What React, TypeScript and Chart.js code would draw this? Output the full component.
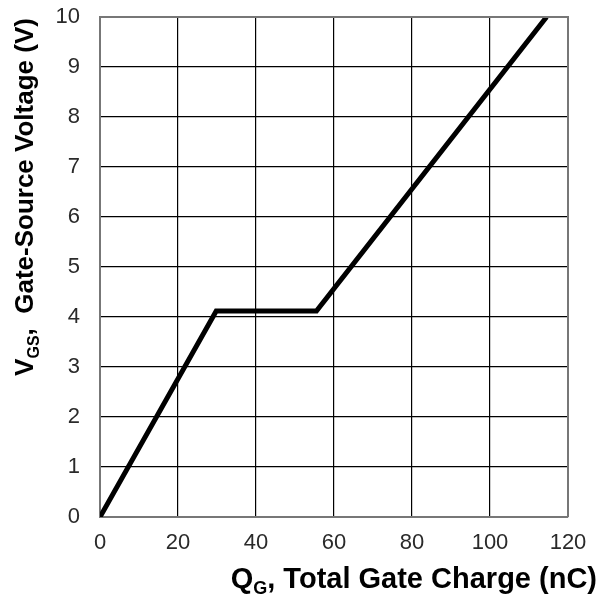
import React, { useEffect, useRef } from "react";
import { Chart, registerables } from "chart.js";

Chart.register(...registerables);

const chargeNC = [0, 29.8, 55.5, 114.5];
const gateVoltage = [0, 4.12, 4.12, 10];
const xTicks = [0, 20, 40, 60, 80, 100, 120];
const yTicks = [0, 1, 2, 3, 4, 5, 6, 7, 8, 9, 10];

const FONT = "'Liberation Sans', Arial, sans-serif";

function drawSubText(
  ctx: CanvasRenderingContext2D,
  parts: { t: string; sub?: boolean }[],
  x: number,
  y: number,
  align: "left" | "right" | "center",
  size: number
) {
  const big = "bold " + size + "px " + FONT;
  const small = "bold " + Math.round(size * 0.62) + "px " + FONT;
  let total = 0;
  const widths = parts.map((p) => {
    ctx.font = p.sub ? small : big;
    const w = ctx.measureText(p.t).width;
    total += w;
    return w;
  });
  let cx = align === "left" ? x : align === "right" ? x - total : x - total / 2;
  ctx.textBaseline = "alphabetic";
  ctx.textAlign = "left";
  parts.forEach((p, i) => {
    ctx.font = p.sub ? small : big;
    ctx.fillText(p.t, cx, p.sub ? y + size * 0.22 : y);
    cx += widths[i];
  });
}

const titlePlugin = {
  id: "axisTitles",
  afterDraw(chart: any) {
    const ctx = chart.ctx as CanvasRenderingContext2D;
    ctx.save();
    ctx.fillStyle = "#000";
    drawSubText(
      ctx,
      [{ t: "Q" }, { t: "G", sub: true }, { t: ", Total Gate Charge (nC)" }],
      597,
      588,
      "right",
      29
    );
    ctx.translate(33, 197);
    ctx.rotate(-Math.PI / 2);
    drawSubText(
      ctx,
      [{ t: "V" }, { t: "GS", sub: true }, { t: ",  Gate-Source Voltage (V)" }],
      0,
      0,
      "center",
      26
    );
    ctx.restore();
  },
};

export default function App() {
  const ref = useRef<HTMLCanvasElement | null>(null);
  useEffect(() => {
    document.body.style.margin = "0";
    const data = chargeNC.map((x, i) => ({ x, y: gateVoltage[i] }));
    const chart = new Chart(ref.current as HTMLCanvasElement, {
      type: "scatter",
      data: {
        datasets: [
          {
            data,
            showLine: true,
            borderColor: "#000",
            borderWidth: 5,
            pointRadius: 0,
            borderJoinStyle: "miter",
            borderCapStyle: "butt",
          } as any,
        ],
      },
      options: {
        animation: false,
        responsive: false,
        devicePixelRatio: 1,
        layout: { padding: { top: 17, right: 30, left: 0, bottom: 0 } },
        plugins: { legend: { display: false }, tooltip: { enabled: false } },
        scales: {
          x: {
            type: "linear",
            min: 0,
            max: 120,
            afterBuildTicks: (s: any) => {
              s.ticks = xTicks.map((v) => ({ value: v }));
            },
            afterFit: (s: any) => {
              s.height = 78;
              s.paddingLeft = 0;
              s.paddingRight = 0;
            },
            grid: { color: "#000", lineWidth: 1.2, drawTicks: false },
            border: { color: "#777", width: 2 },
            ticks: {
              color: "#2a2a2a",
              font: { family: FONT, size: 22 },
              padding: 13,
              maxRotation: 0,
            },
          },
          y: {
            type: "linear",
            min: 0,
            max: 10,
            afterBuildTicks: (s: any) => {
              s.ticks = yTicks.map((v) => ({ value: v }));
            },
            afterFit: (s: any) => {
              s.width = 100;
              s.paddingTop = 0;
              s.paddingBottom = 0;
            },
            grid: { color: "#000", lineWidth: 1.2, drawTicks: false },
            border: { color: "#777", width: 2 },
            ticks: {
              color: "#2a2a2a",
              font: { family: FONT, size: 22 },
              padding: 20,
            },
          },
        },
      },
      plugins: [
        titlePlugin,
        {
          id: "frame",
          afterDatasetsDraw(chart: any) {
            const { left, right, top, bottom } = chart.chartArea;
            const c = chart.ctx;
            c.save();
            c.strokeStyle = "#777";
            c.lineWidth = 2;
            c.beginPath();
            c.moveTo(left, top);
            c.lineTo(right, top);
            c.lineTo(right, bottom);
            c.stroke();
            c.restore();
          },
        },
      ],
    });
    return () => chart.destroy();
  }, []);
  return (
    <div style={{ width: 598, height: 595 }}>
      <canvas ref={ref} width={598} height={595} style={{ display: "block" }} />
    </div>
  );
}
